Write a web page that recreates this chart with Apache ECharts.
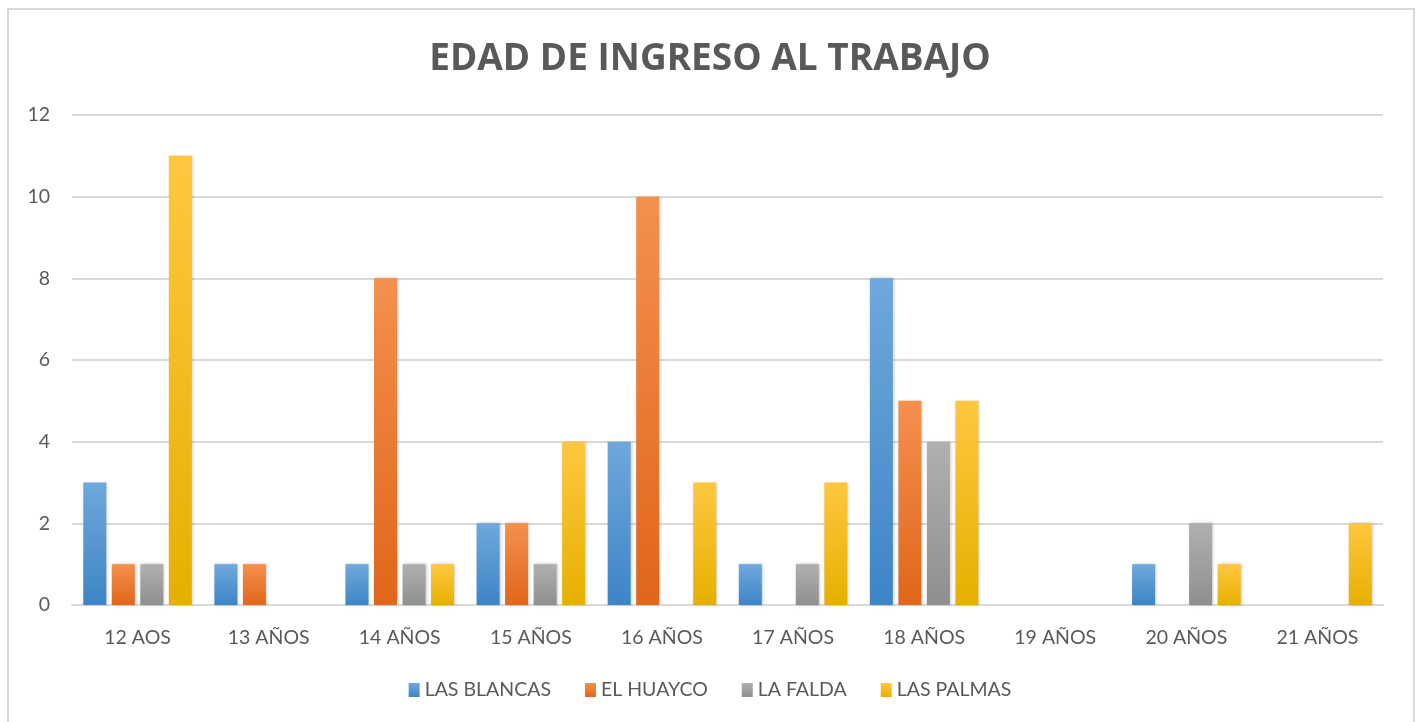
<!DOCTYPE html>
<html>
<head>
<meta charset="utf-8">
<title>Edad de ingreso al trabajo</title>
<script src="https://cdn.jsdelivr.net/npm/echarts@6/dist/echarts.min.js"></script>
<style>
    html, body { margin: 0; padding: 0; background: #fff; }
    #main { width: 1420px; height: 722px; }
    #frame {
        position: absolute; left: 7px; top: 8px; width: 1404px; height: 730px;
        border: 2px solid #d9d9d9; pointer-events: none;
    }
</style>
</head>
<body>
<div id="main"></div>
<div id="frame"></div>
<script>
'use strict';
// categorias y series
var categorias = ['12 AOS', '13 AÑOS', '14 AÑOS', '15 AÑOS', '16 AÑOS', '17 AÑOS', '18 AÑOS', '19 AÑOS', '20 AÑOS', '21 AÑOS'];
var lasBlancas = [3, 1, 1, 2, 4, 1, 8, 0, 1, 0];
var elHuayco = [1, 1, 8, 2, 10, 0, 5, 0, 0, 0];
var laFalda = [1, 0, 1, 1, 0, 1, 4, 0, 2, 0];
var lasPalmas = [11, 0, 1, 4, 3, 3, 5, 0, 1, 2];
var nombres = ['LAS BLANCAS', 'EL HUAYCO', 'LA FALDA', 'LAS PALMAS'];
var yTicks = [0, 2, 4, 6, 8, 10, 12];

var colores = [
    ['#6fa8dc', '#3d85c6'],
    ['#f4904e', '#e0661a'],
    ['#b0b0b0', '#8f8f8f'],
    ['#ffc740', '#e6b000']
];
var fuente = 'Lato, "Open Sans", sans-serif';

function grad(c) {
    return new echarts.graphic.LinearGradient(0, 0, 0, 1, [
        { offset: 0, color: c[0] },
        { offset: 1, color: c[1] }
    ]);
}

// ocultar barras con valor 0 (Excel no las muestra)
function serie(nombre, datos, c) {
    return {
        name: nombre,
        type: 'bar',
        barWidth: 23,
        barGap: '24%',
        data: datos.map(function (v) { return v === 0 ? null : v; }),
        itemStyle: {
            color: grad(c),
            shadowColor: 'rgba(0,0,0,0.25)',
            shadowBlur: 3,
            shadowOffsetX: 1
        }
    };
}

var myChart = echarts.init(document.getElementById('main'));
var option = {
    animation: false,
    title: {
        text: 'EDAD DE INGRESO AL TRABAJO',
        left: 'center',
        top: 36,
        textStyle: {
            color: '#595959',
            fontSize: 37,
            fontWeight: 'bold',
            fontFamily: '"Open Sans", sans-serif'
        }
    },
    color: colores.map(function (c) { return c[1]; }),
    legend: {
        bottom: 17,
        left: 'center',
        itemWidth: 11,
        itemHeight: 14,
        itemGap: 34,
        icon: 'rect',
        textStyle: { color: '#595959', fontSize: 19.5, fontFamily: fuente },
        data: nombres.map(function (n, i) {
            return { name: n, itemStyle: { color: grad(colores[i]) } };
        })
    },
    grid: {
        left: 72,
        right: 37,
        top: 115,
        bottom: 117
    },
    xAxis: {
        type: 'category',
        data: categorias,
        axisTick: { show: false },
        axisLine: { lineStyle: { color: '#d9d9d9', width: 2 } },
        axisLabel: { color: '#595959', fontSize: 19.5, fontFamily: fuente, margin: 23 }
    },
    yAxis: {
        type: 'value',
        min: yTicks[0],
        max: yTicks[yTicks.length - 1],
        interval: 2,
        axisLine: { show: false },
        axisTick: { show: false },
        splitLine: { lineStyle: { color: '#d9d9d9', width: 2 } },
        axisLabel: { color: '#595959', fontSize: 19.5, fontFamily: fuente, margin: 22 }
    },
    series: [
        serie(nombres[0], lasBlancas, colores[0]),
        serie(nombres[1], elHuayco, colores[1]),
        serie(nombres[2], laFalda, colores[2]),
        serie(nombres[3], lasPalmas, colores[3])
    ]
};
myChart.setOption(option);
</script>
</body>
</html>
